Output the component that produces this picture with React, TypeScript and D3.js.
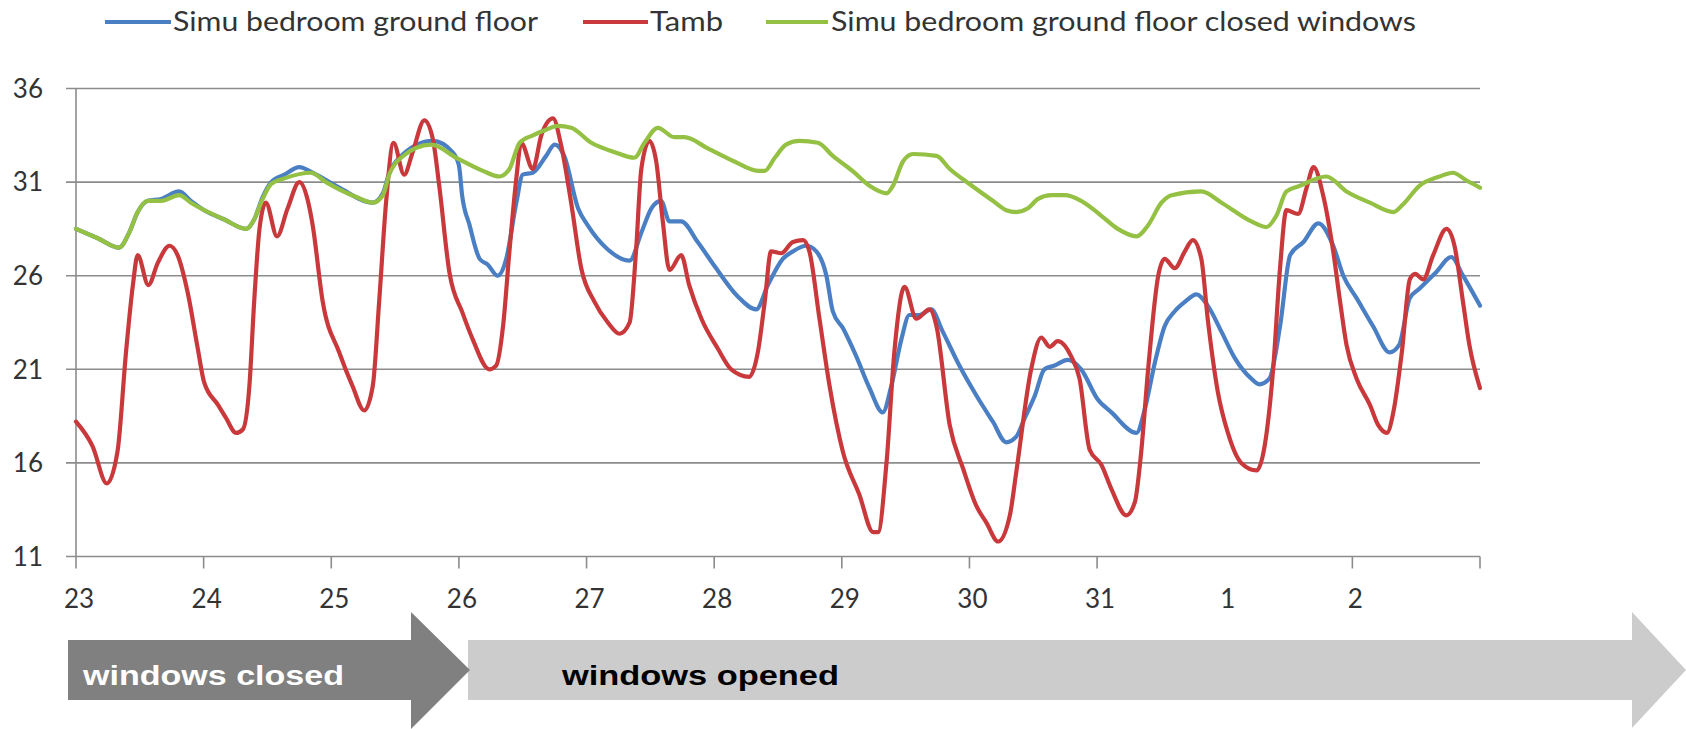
import React from "react";
import * as d3 from "d3";

type Pt = [number, number]; // [hours since 23rd 00:00, °C]

const dayLabels = ["23", "24", "25", "26", "27", "28", "29", "30", "31", "1", "2"];
const daysWithTick = [0, 1, 2, 3, 4, 5, 6, 7, 8, 10, 11];
const yTicks = [11, 16, 21, 26, 31, 36];

const simuBedroom: Pt[] = [
  [0, 28.5], [4.1, 28.0], [8.1, 27.5], [10, 28.3], [11.6, 29.4], [13.5, 30.0], [16, 30.1], [19.4, 30.5],
  [21.6, 30.0], [24.1, 29.5], [27.9, 29.0], [32, 28.5], [33.5, 29.0], [35.1, 30.2], [36.7, 31.0], [39.2, 31.4],
  [42.0, 31.8], [44.5, 31.5], [49.5, 30.7], [55.8, 29.9], [57.7, 30.4], [58.9, 31.5], [60.8, 32.3], [67.1, 33.2],
  [70.8, 32.6], [72.0, 31.9], [72.6, 30.3], [74.0, 28.7], [75.9, 26.9], [77.4, 26.6], [79.3, 26.0], [80.9, 26.9],
  [82.8, 29.9], [84.0, 31.4], [85.9, 31.5], [88.4, 32.4], [90.0, 33.0], [91.8, 32.4], [94.4, 29.6], [96.2, 28.7],
  [100.0, 27.4], [104.1, 26.8], [106.3, 28.3], [108.2, 29.6], [110.0, 30.0], [111.6, 28.9], [113.8, 28.9],
  [116.9, 27.8], [120.1, 26.5], [124.4, 24.9], [127.9, 24.2], [130.1, 25.5], [132.9, 26.9], [134.8, 27.3],
  [137.3, 27.6], [139.2, 27.3], [141.1, 26.0], [142.3, 24.1], [144.2, 23.2], [146.7, 21.7], [149.2, 20.0],
  [151.7, 18.7], [153.3, 20.1], [155.2, 22.6], [156.7, 23.9], [158.6, 23.9], [160.8, 24.2], [163.0, 23.0],
  [166.1, 21.2], [169.3, 19.6], [172.4, 18.2], [174.9, 17.1], [176.8, 17.4], [178.4, 18.4], [180.3, 19.6],
  [182.1, 21.0], [184.0, 21.2], [186.5, 21.5], [189.0, 21.0], [192.1, 19.4], [194.7, 18.7], [199.4, 17.6],
  [201.0, 18.9], [202.9, 21.4], [204.7, 23.3], [206.6, 24.1], [208.5, 24.6], [210.7, 25.0], [212.8, 24.4],
  [215.4, 23.0], [217.9, 21.6], [221.0, 20.5], [222.5, 20.2], [224.4, 20.5], [226.4, 23.3], [228.3, 27.1],
  [230.8, 27.8], [233.6, 28.8], [236.4, 27.6], [238.3, 26.0], [240.8, 24.8], [243.9, 23.3], [247.0, 21.9],
  [248.8, 22.3], [250.8, 24.8], [252.6, 25.3], [255.8, 26.2], [258.6, 27.0], [260.8, 26.0], [264, 24.4],
];

const tamb: Pt[] = [
  [0, 18.2], [3.1, 16.9], [5.8, 14.9], [7.8, 16.6], [9.4, 21.9], [10.7, 25.5], [11.6, 27.1], [13.6, 25.5],
  [15.4, 26.7], [17.6, 27.6], [19.1, 27.1], [21.0, 25.1], [22.9, 22.1], [24.1, 20.3], [26.7, 19.1], [28.2, 18.4],
  [30.1, 17.6], [31.4, 17.8], [32.6, 20.1], [33.5, 24.6], [34.5, 28.5], [35.7, 29.9], [37.8, 28.1], [39.8, 29.6],
  [42.0, 31.0], [43.6, 30.0], [44.5, 28.7], [46.4, 24.6], [49.5, 21.9], [52.0, 20.1], [54.2, 18.8], [55.8, 20.1],
  [57.0, 24.6], [58.3, 29.9], [59.7, 33.1], [61.7, 31.4], [63.3, 32.6], [65.5, 34.3], [67.1, 33.3], [68.3, 30.8],
  [70.2, 26.2], [72.7, 24.0], [74.6, 22.6], [77.7, 21.0], [79.0, 21.2], [80.3, 23.3], [81.5, 27.3], [82.8, 31.2],
  [83.7, 33.1], [85.9, 31.7], [87.5, 33.5], [89.7, 34.4], [91.2, 33.0], [93.1, 29.9], [95.0, 26.4], [97.5, 24.6],
  [100.0, 23.5], [102.2, 22.9], [104.1, 23.5], [105.3, 27.3], [106.3, 31.7], [107.8, 33.2], [109.1, 32.1],
  [110.3, 29.0], [111.6, 26.3], [113.8, 27.1], [115.3, 25.5], [117.6, 23.7], [120.7, 22.1], [123.2, 21.0],
  [126.6, 20.6], [128.2, 21.9], [129.5, 24.6], [130.7, 27.3], [132.6, 27.2], [134.8, 27.8], [136.7, 27.9],
  [137.9, 27.3], [139.8, 23.7], [141.7, 20.1], [144.2, 16.6], [147.3, 14.3], [149.9, 12.3], [150.8, 12.3],
  [152.4, 16.0], [153.9, 22.0], [155.8, 25.4], [158.0, 23.7], [160.5, 24.2], [161.8, 23.3], [164.3, 18.0],
  [166.8, 15.7], [169.3, 13.7], [171.2, 12.8], [173.4, 11.8], [175.6, 13.2], [176.8, 15.5], [179.6, 21.0],
  [181.5, 22.7], [183.1, 22.2], [184.6, 22.5], [187.1, 21.7], [188.7, 20.5], [190.6, 16.7], [192.8, 15.9],
  [194.7, 14.6], [197.5, 13.2], [199.1, 13.9], [200.3, 16.6], [201.6, 21.0], [203.5, 26.0], [204.7, 26.9],
  [206.6, 26.4], [208.5, 27.3], [210.0, 27.9], [211.6, 26.9], [212.8, 23.7], [214.7, 19.8], [216.6, 17.6],
  [219.1, 16.0], [222.0, 15.6], [223.5, 16.9], [225.1, 21.0], [226.4, 26.4], [227.6, 29.5], [229.8, 29.3],
  [231.4, 30.7], [232.7, 31.8], [234.5, 30.3], [236.4, 27.3], [237.7, 24.6], [238.9, 22.3], [240.8, 20.5],
  [243.3, 19.1], [244.9, 18.0], [246.5, 17.6], [247.7, 18.7], [249.3, 21.9], [250.8, 25.8], [251.8, 26.1],
  [253.3, 25.8], [255.2, 27.1], [257.7, 28.5], [259.2, 27.6], [260.8, 24.6], [262.0, 22.3], [264, 20.0],
];

const simuClosedWindows: Pt[] = [
  [0, 28.5], [4.1, 28.0], [8.1, 27.5], [10, 28.3], [11.6, 29.4], [13.5, 30.0], [16, 30.0], [19.4, 30.3],
  [21.6, 29.9], [24.1, 29.5], [27.9, 29.0], [32, 28.5], [33.5, 29.0], [35.1, 30.1], [36.7, 30.9], [39.2, 31.2],
  [44.2, 31.5], [47.0, 31.0], [52.7, 30.2], [55.8, 29.9], [57.7, 30.3], [58.9, 31.4], [61.1, 32.3], [66.8, 33.0],
  [71.5, 32.3], [76.5, 31.6], [79.6, 31.3], [81.5, 31.7], [83.4, 33.1], [85.9, 33.5], [88.4, 33.8], [90.6, 34.0],
  [93.1, 33.9], [96.9, 33.1], [101.3, 32.6], [105.0, 32.3], [106.9, 33.1], [109.4, 33.9], [112.5, 33.4],
  [114.4, 33.4], [118.8, 32.8], [123.8, 32.1], [128.2, 31.6], [129.5, 31.6], [131.4, 32.3], [133.5, 33.0],
  [136.0, 33.2], [139.5, 33.1], [142.3, 32.4], [146.0, 31.6], [149.2, 30.8], [152.4, 30.4], [153.6, 30.8],
  [155.5, 32.1], [157.4, 32.5], [161.8, 32.4], [164.3, 31.7], [168.0, 30.9], [172.4, 30.0], [174.9, 29.5],
  [176.8, 29.4], [179.0, 29.6], [180.9, 30.1], [183.4, 30.3], [185.9, 30.3], [189.0, 30.0], [192.8, 29.2],
  [195.9, 28.5], [199.4, 28.1], [201.6, 28.7], [204.1, 29.9], [206.0, 30.3], [211.6, 30.5], [215.4, 29.9],
  [221.0, 28.9], [223.8, 28.6], [225.7, 29.2], [227.6, 30.5], [230.1, 30.8], [235.1, 31.3], [238.9, 30.5],
  [243.3, 29.9], [247.7, 29.4], [249.5, 29.8], [252.6, 30.8], [256.4, 31.3], [258.9, 31.5], [261.4, 31.1],
  [264, 30.7],
];

const seriesNames = ["Simu bedroom ground floor", "Tamb", "Simu bedroom ground floor closed windows"];
const seriesData = [simuBedroom, tamb, simuClosedWindows];
const seriesColors = ["#4a7fc4", "#c9393c", "#94c043"];
const phaseLabels = ["windows closed", "windows opened"];

export default function App() {
  const W = 1686;
  const H = 729;
  const x = d3.scaleLinear().domain([0, 264]).range([76, 1480]);
  const y = d3.scaleLinear().domain([11, 36]).range([556.5, 88.5]);
  const line = d3
    .line<Pt>()
    .x((d) => x(d[0]))
    .y((d) => y(d[1]))
    .curve(d3.curveMonotoneX);

  const grid = "#8c8c8c";
  const legend = [
    { lx0: 105, lx1: 171, tx: 173, tl: 365 },
    { lx0: 583, lx1: 648, tx: 650, tl: 73 },
    { lx0: 766, lx1: 828, tx: 831, tl: 585 },
  ];

  return (
    <svg
      width={W}
      height={H}
      viewBox={`0 0 ${W} ${H}`}
      style={{ position: "absolute", left: 0, top: 0, background: "#fff" }}
    >
      {/* legend */}
      {seriesNames.map((name, i) => (
        <g key={name}>
          <line x1={legend[i].lx0} x2={legend[i].lx1} y1={22} y2={22} stroke={seriesColors[i]} strokeWidth={4} />
          <text
            x={legend[i].tx}
            y={31}
            fontFamily="Lato, 'Open Sans', sans-serif"
            fontSize={26}
            fill="#333"
            textLength={legend[i].tl}
            lengthAdjust="spacingAndGlyphs"
          >
            {name}
          </text>
        </g>
      ))}

      {/* gridlines */}
      {yTicks.map((v) => (
        <g key={v}>
          <line x1={66} x2={x(264)} y1={y(v)} y2={y(v)} stroke={grid} strokeWidth={1.6} />
          <text
            x={43}
            y={y(v)}
            dy="0.36em"
            textAnchor="end"
            fontFamily="Lato, 'Open Sans', sans-serif"
            fontSize={26}
            fill="#333"
          >
            {v}
          </text>
        </g>
      ))}

      {/* axes */}
      <line x1={x(0)} x2={x(0)} y1={y(36)} y2={y(11)} stroke={grid} strokeWidth={1.6} />
      {daysWithTick.map((d) => (
        <line key={d} x1={x(d * 24)} x2={x(d * 24)} y1={y(11)} y2={y(11) + 12} stroke={grid} strokeWidth={1.6} />
      ))}
      {dayLabels.map((lab, i) => (
        <text
          key={lab + i}
          x={x(i * 24) + 3}
          y={608}
          textAnchor="middle"
          fontFamily="Lato, 'Open Sans', sans-serif"
          fontSize={26}
          fill="#333"
        >
          {lab}
        </text>
      ))}

      {/* series */}
      {seriesData.map((data, i) => (
        <path
          key={seriesNames[i]}
          d={line(data) || ""}
          fill="none"
          stroke={seriesColors[i]}
          strokeWidth={4.2}
          strokeLinejoin="round"
          strokeLinecap="round"
        />
      ))}

      {/* phase arrows */}
      <polygon points="468,640 1632,640 1632,612 1686,670 1632,728 1632,700 468,700" fill="#cccccc" />
      <polygon points="68,640 411,640 411,612 470,670 411,729 411,700 68,700" fill="#808080" />
      <text
        x={83}
        y={685}
        fontFamily="'Liberation Sans', Arial, sans-serif"
        fontWeight="bold"
        fontSize={28}
        fill="#ffffff"
        textLength={261}
        lengthAdjust="spacingAndGlyphs"
      >
        {phaseLabels[0]}
      </text>
      <text
        x={562}
        y={685}
        fontFamily="'Liberation Sans', Arial, sans-serif"
        fontWeight="bold"
        fontSize={28}
        fill="#000000"
        textLength={277}
        lengthAdjust="spacingAndGlyphs"
      >
        {phaseLabels[1]}
      </text>
    </svg>
  );
}
